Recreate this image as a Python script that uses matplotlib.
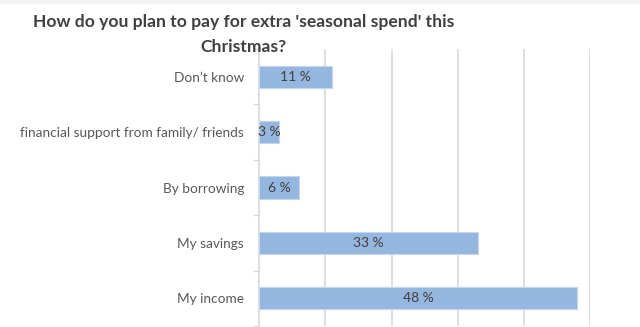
import matplotlib.pyplot as plt
import numpy as np

# survey answers, top to bottom as shown
answers = ["Don’t know", "financial support from family/ friends", "By borrowing",
           "My savings", "My income"]
shares = [11, 3, 6, 33, 48]

bar_color = "#95b7df"
grid_color = "#d9d9d9"
text_color = "#595959"

plt.rcParams['font.family'] = ['Lato', 'DejaVu Sans']

fig = plt.figure(figsize=(6.4, 3.27), dpi=100)
fig.patch.set_facecolor("white")
# thin grey band along the top edge
fig.add_artist(plt.Rectangle((0, 0.99), 1, 0.01, transform=fig.transFigure,
                             color="#f2f3f5", zorder=0))

ax = fig.add_axes([0.405, 0.003, 0.517, 0.847])
y = np.arange(len(answers))
bars = ax.barh(y, shares, height=0.4, color=bar_color, edgecolor="#c5d6ee",
               linewidth=0.8, zorder=3)

for b, v in zip(bars, shares):
    ax.text(b.get_width() / 2, b.get_y() + b.get_height() / 2, f"{v} %",
            ha="center", va="center", fontsize=10, color="#404040", zorder=4)

ax.set_xlim(0, 50)
ax.set_ylim(len(answers) - 0.5, -0.5)
ax.set_xticks([10, 20, 30, 40, 50])
ax.xaxis.grid(True, color=grid_color, linewidth=1.2, zorder=0)
ax.tick_params(axis="x", length=0, labelbottom=False)

ax.set_yticks(y)
ax.set_yticklabels(answers, fontsize=9.8, color=text_color)
ax.set_yticks(np.arange(len(answers) + 1) - 0.5, minor=True)
ax.tick_params(axis="y", which="major", length=0, pad=11)
ax.tick_params(axis="y", which="minor", length=4, color=grid_color, width=1)

for side in ["top", "right", "bottom"]:
    ax.spines[side].set_visible(False)
ax.spines["left"].set_color(grid_color)
ax.spines["left"].set_linewidth(1.2)

fig.text(0.38, 0.933, "How do you plan to pay for extra 'seasonal spend' this",
         ha="center", va="center", fontsize=12.6, fontweight="bold", color="#404040")
fig.text(0.38, 0.856, "Christmas?", ha="center", va="center", fontsize=12.6,
         fontweight="bold", color="#404040")

fig.savefig("out.png", dpi=100, facecolor="white")
